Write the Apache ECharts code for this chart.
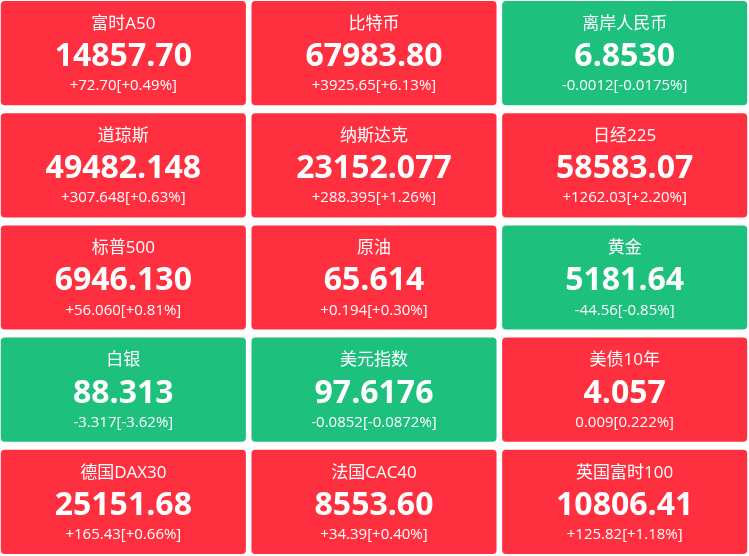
<!DOCTYPE html>
<html>
<head>
<meta charset="utf-8">
<script src="https://cdn.jsdelivr.net/npm/echarts@6/dist/echarts.min.js"></script>
<style>
html,body{margin:0;padding:0;background:#fff;}
#main{width:749px;height:556px;}
</style>
</head>
<body>
<div id="main"></div>
<script>
var names = ['富时A50','比特币','离岸人民币','道琼斯','纳斯达克','日经225','标普500','原油','黄金','白银','美元指数','美债10年','德国DAX30','法国CAC40','英国富时100'];
var prices = ['14857.70','67983.80','6.8530','49482.148','23152.077','58583.07','6946.130','65.614','5181.64','88.313','97.6176','4.057','25151.68','8553.60','10806.41'];
var changes = ['+72.70','+3925.65','-0.0012','+307.648','+288.395','+1262.03','+56.060','+0.194','-44.56','-3.317','-0.0852','0.009','+165.43','+34.39','+125.82'];
var pcts = ['+0.49%','+6.13%','-0.0175%','+0.63%','+1.26%','+2.20%','+0.81%','+0.30%','-0.85%','-3.62%','-0.0872%','0.222%','+0.66%','+0.40%','+1.18%'];

var UP = '#fe2f3f', DOWN = '#1ec07e';
var FONT = '"Open Sans","Noto Sans CJK SC",sans-serif';

var data = names.map(function (n, i) {
  return [i % 3, Math.floor(i / 3), i];
});

var chart = echarts.init(document.getElementById('main'));
chart.setOption({
  animation: false,
  grid: {left: 0, top: 0, right: 0, bottom: 0},
  xAxis: {type: 'value', min: -0.492, max: 2.496, show: false},
  yAxis: {type: 'value', min: -0.473, max: 4.482, inverse: true, show: false},
  series: [{
    type: 'custom',
    silent: true,
    clip: false,
    data: data,
    renderItem: function (params, api) {
      var i = api.value(2);
      var c = api.coord([api.value(0), api.value(1)]);
      var s = api.size([1, 1]);
      var w = s[0] - 5.6, h = s[1] - 8;
      var x0 = c[0] - w / 2, y0 = c[1] - h / 2;
      var down = changes[i].charAt(0) === '-';
      return {
        type: 'group',
        children: [
          {type: 'rect', shape: {x: x0, y: y0, width: w, height: h, r: 4}, style: {fill: down ? DOWN : UP}},
          {type: 'text', style: {text: names[i], x: c[0], y: y0 + 23, align: 'center', verticalAlign: 'middle', fill: '#fff', fontSize: 17, fontFamily: FONT}},
          {type: 'text', style: {text: prices[i], x: c[0], y: y0 + 56, align: 'center', verticalAlign: 'middle', fill: '#fff', fontSize: 32, fontWeight: 'bold', fontFamily: FONT}},
          {type: 'text', style: {text: changes[i] + '[' + pcts[i] + ']', x: c[0], y: y0 + 85, align: 'center', verticalAlign: 'middle', fill: '#fff', fontSize: 15, fontFamily: FONT}}
        ]
      };
    }
  }]
});
</script>
</body>
</html>
